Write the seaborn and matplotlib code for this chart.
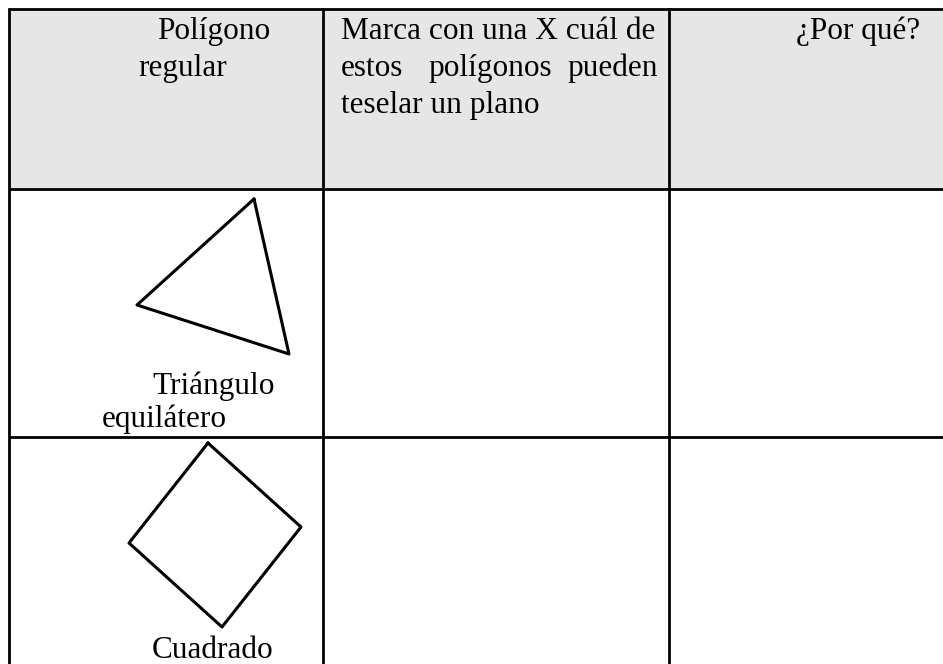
import numpy as np
import pandas as pd
import matplotlib
matplotlib.use("Agg")
import matplotlib.pyplot as plt
import seaborn as sns

# Table content
header_col1 = ["Polígono", "regular"]
header_col2 = ["Marca con una X cuál de", "estos  polígonos  pueden", "teselar un plano"]
header_col3 = ["¿Por qué?"]
triangle_label = ["Triángulo", "equilátero"]
square_label = ["Cuadrado"]

# Shape outlines as drawn in the picture (pixel space)
triangle_x = [254, 289, 137, 254]
triangle_y = [199, 354, 305, 199]
square_x = [208, 301, 222, 129, 208]
square_y = [443, 527, 627, 543, 443]

# Grid layout (pixel space)
col_edges = [9, 323, 669]
row_edges = [9, 189, 437]

W, H = 943, 664
FONT = ["Liberation Serif", "DejaVu Serif"]
FS = 22.5

sns.set_theme(style="white")
plt.rcParams["font.family"] = FONT
plt.rcParams["text.color"] = "black"

fig = plt.figure(figsize=(W / 100, H / 100), dpi=100)
ax = fig.add_axes([0, 0, 1, 1])

# header shading
ax.fill_between([col_edges[0], W], row_edges[0], row_edges[1], color="#e6e6e6", lw=0)

# grid lines
lw_grid = 2.0
ax.plot([col_edges[0] - 1, W], [row_edges[0], row_edges[0]], color="black", lw=lw_grid, solid_capstyle="butt")
for y in row_edges[1:]:
    ax.plot([col_edges[0], W], [y, y], color="black", lw=lw_grid, solid_capstyle="butt")
for x in col_edges:
    ax.plot([x, x], [row_edges[0] - 1, H], color="black", lw=lw_grid, solid_capstyle="butt")

# header text
txt = dict(fontsize=FS, va="baseline", color="black")
ax.text(157, 39, header_col1[0], **txt)
ax.text(138, 76, header_col1[1], **txt)

ax.text(341, 39, header_col2[0], **txt)
words = header_col2[1].split()
ax.text(341, 76, words[0], **txt)
ax.text(490, 76, words[1], ha="center", **txt)
ax.text(658, 76, words[2], ha="right", **txt)
ax.text(341, 113, header_col2[2], **txt)

ax.text(920, 39, header_col3[0], ha="right", **txt)

# shapes
tri = pd.DataFrame({"x": triangle_x, "y": triangle_y})
sq = pd.DataFrame({"x": square_x, "y": square_y})
sns.lineplot(data=tri, x="x", y="y", sort=False, estimator=None, color="black", lw=2.2, ax=ax)
sns.lineplot(data=sq, x="x", y="y", sort=False, estimator=None, color="black", lw=2.2, ax=ax)

# row labels
ax.text(152, 394, triangle_label[0], **txt)
ax.text(102, 427, triangle_label[1], **txt)
ax.text(152, 658, square_label[0], **txt)

ax.set_xlim(0, W)
ax.set_ylim(H, 0)
ax.axis("off")

fig.savefig("out.png", dpi=100, facecolor="white")
